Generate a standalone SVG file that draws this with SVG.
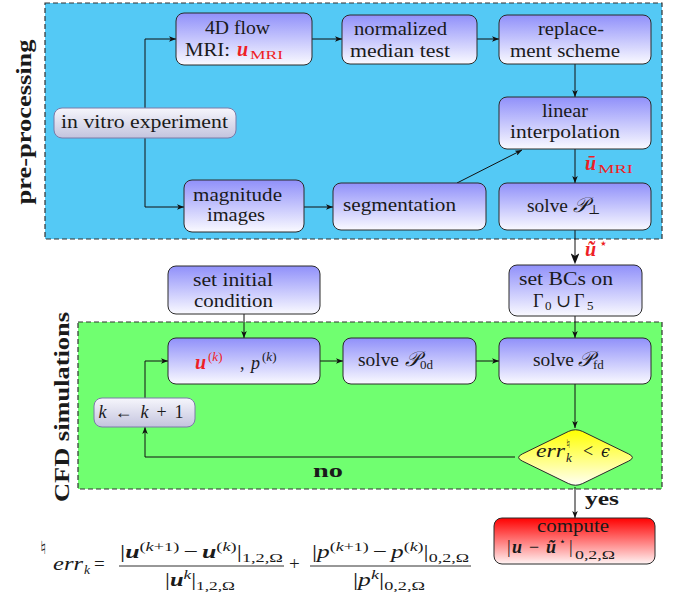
<svg xmlns="http://www.w3.org/2000/svg" width="678" height="592" viewBox="0 0 678 592">
<defs>
<style>
.t{font-family:"Liberation Serif","DejaVu Serif",serif;font-size:18px;fill:#1a1a1a}
.i{font-style:italic}
.bi{font-style:italic;font-weight:bold}
.bold{font-weight:bold}
.red{fill:#ee1f26}
.s{font-size:13px}
.sym{font-family:"DejaVu Serif","Liberation Serif",serif}
.scr{font-size:21px}
.lbl{font-family:"Liberation Serif","DejaVu Serif",serif;font-weight:bold;font-size:22px;fill:#1a1a1a}
.node{stroke:#2a2a2a;stroke-width:1}
.grey{stroke:#7a7aa8;stroke-width:1}
.conn{fill:none;stroke:#111;stroke-width:1}
.region{stroke:#333;stroke-width:1.2;stroke-dasharray:5 3}
.f{font-size:19px}
.fs{font-size:13.5px}
</style>
<linearGradient id="gBlue" x1="0" y1="0" x2="0" y2="1"><stop offset="0" stop-color="#9090fa"/><stop offset="1" stop-color="#fafaff"/></linearGradient>
<linearGradient id="gGrey" x1="0" y1="0" x2="0" y2="1"><stop offset="0" stop-color="#f6f6fc"/><stop offset="1" stop-color="#c4c4de"/></linearGradient>
<linearGradient id="gYel" x1="0" y1="0" x2="0" y2="1"><stop offset="0" stop-color="#ffff00"/><stop offset="1" stop-color="#fffff4"/></linearGradient>
<linearGradient id="gRed" x1="0" y1="0" x2="0" y2="1"><stop offset="0" stop-color="#ff0000"/><stop offset="1" stop-color="#fff4f4"/></linearGradient>
<marker id="ah" viewBox="0 0 10 8" refX="10" refY="4" markerWidth="7" markerHeight="5.6" orient="auto" markerUnits="userSpaceOnUse"><path d="M0,0 L10,4 L0,8 L2.5,4 z" fill="#111"/></marker>
<marker id="ahT" viewBox="0 0 10 8" refX="2.5" refY="4" markerWidth="11" markerHeight="8.8" orient="auto" markerUnits="userSpaceOnUse"><path d="M0,0 L10,4 L0,8 L2.5,4 z" fill="#111"/></marker>
</defs>

<g id="region-pre">
<rect class="region" x="45" y="3" width="617" height="236" fill="#54c9f5"/>
<text class="lbl" transform="translate(31,122) rotate(-90)" text-anchor="middle" textLength="165" lengthAdjust="spacingAndGlyphs">pre-processing</text>
</g>
<g id="region-cfd">
<rect class="region" x="78" y="322" width="584" height="167" fill="#70ff70"/>
<text class="lbl" transform="translate(69,407) rotate(-90)" text-anchor="middle" textLength="190" lengthAdjust="spacingAndGlyphs">CFD simulations</text>
</g>

<g id="connectors">
<path class="conn" d="M145,108 V39 H176" marker-end="url(#ah)"/>
<path class="conn" d="M145,138 V207 H184" marker-end="url(#ah)"/>
<path class="conn" d="M312,39 H342" marker-end="url(#ah)"/>
<path class="conn" d="M477,39 H499" marker-end="url(#ah)"/>
<path class="conn" d="M575,64 V97" marker-end="url(#ah)"/>
<path class="conn" d="M457,183 L522,150" marker-end="url(#ah)"/>
<path class="conn" d="M575,149 V183" marker-end="url(#ah)"/>
<path class="conn" d="M304,207 H333" marker-end="url(#ah)"/>
<path class="conn" d="M575,230 V256" stroke-width="3" marker-end="url(#ahT)"/>
<path class="conn" d="M244,314 V338" marker-end="url(#ah)"/>
<path class="conn" d="M575,316 V338" marker-end="url(#ah)"/>
<path class="conn" d="M320,361 H343" marker-end="url(#ah)"/>
<path class="conn" d="M476,361 H499" marker-end="url(#ah)"/>
<path class="conn" d="M575,384 V428" marker-end="url(#ah)"/>
<path class="conn" d="M515,457 H145 V427" marker-end="url(#ah)"/>
<path class="conn" d="M145,398 V361 H168" marker-end="url(#ah)"/>
<path class="conn" d="M575,487 V518" marker-end="url(#ah)"/>
<text class="t red" x="585" y="170"><tspan class="bi" font-size="20">ū</tspan><tspan class="s" x="598" dy="3" textLength="35" lengthAdjust="spacingAndGlyphs">MRI</tspan></text>
<text class="t red" x="585" y="256"><tspan class="bi" font-size="20">ũ</tspan><tspan class="sym" font-size="14" x="599" dy="-8">⋆</tspan></text>
<text class="t bold" x="313" y="477" font-size="20" textLength="30" lengthAdjust="spacingAndGlyphs">no</text>
<text class="t bold" x="585" y="505" font-size="20" textLength="34" lengthAdjust="spacingAndGlyphs">yes</text>
</g>

<g id="n-invitro">
<rect class="grey" x="54" y="108" width="182" height="30" rx="8" fill="url(#gGrey)"/>
<text class="t" x="144.5" y="128" text-anchor="middle" textLength="167" lengthAdjust="spacingAndGlyphs">in vitro experiment</text>
</g>
<g id="n-4dflow">
<rect class="node" x="176" y="13" width="136" height="52" rx="8" fill="url(#gBlue)"/>
<text class="t" x="237.5" y="34" text-anchor="middle" textLength="65" lengthAdjust="spacingAndGlyphs">4D flow</text>
<text class="t" x="185" y="56"><tspan textLength="45" lengthAdjust="spacingAndGlyphs">MRI:</tspan> <tspan class="bi red" x="237" font-size="20">u</tspan><tspan class="s red" x="250" dy="3" textLength="33" lengthAdjust="spacingAndGlyphs">MRI</tspan></text>
</g>
<g id="n-median">
<rect class="node" x="342" y="15" width="135" height="49" rx="8" fill="url(#gBlue)"/>
<text class="t" x="400.5" y="35" text-anchor="middle" textLength="93" lengthAdjust="spacingAndGlyphs">normalized</text>
<text class="t" x="400" y="57" text-anchor="middle" textLength="100" lengthAdjust="spacingAndGlyphs">median test</text>
</g>
<g id="n-replace">
<rect class="node" x="499" y="15" width="152" height="49" rx="8" fill="url(#gBlue)"/>
<text class="t" x="571" y="35" text-anchor="middle" textLength="66" lengthAdjust="spacingAndGlyphs">replace-</text>
<text class="t" x="565" y="57" text-anchor="middle" textLength="110" lengthAdjust="spacingAndGlyphs">ment scheme</text>
</g>
<g id="n-linear">
<rect class="node" x="499" y="97" width="152" height="52" rx="8" fill="url(#gBlue)"/>
<text class="t" x="565" y="117" text-anchor="middle" textLength="46" lengthAdjust="spacingAndGlyphs">linear</text>
<text class="t" x="565" y="138" text-anchor="middle" textLength="110" lengthAdjust="spacingAndGlyphs">interpolation</text>
</g>
<g id="n-magnitude">
<rect class="node" x="184" y="180" width="120" height="52" rx="8" fill="url(#gBlue)"/>
<text class="t" x="237.5" y="201" text-anchor="middle" textLength="89" lengthAdjust="spacingAndGlyphs">magnitude</text>
<text class="t" x="236" y="221" text-anchor="middle" textLength="58" lengthAdjust="spacingAndGlyphs">images</text>
</g>
<g id="n-segmentation">
<rect class="node" x="333" y="183" width="153" height="47" rx="8" fill="url(#gBlue)"/>
<text class="t" x="399.5" y="211" text-anchor="middle" textLength="113" lengthAdjust="spacingAndGlyphs">segmentation</text>
</g>
<g id="n-solveperp">
<rect class="node" x="499" y="183" width="152" height="47" rx="8" fill="url(#gBlue)"/>
<text class="t" x="527" y="212"><tspan textLength="41" lengthAdjust="spacingAndGlyphs">solve</tspan> <tspan class="i scr" x="573">𝒫</tspan><tspan class="sym s" dy="2">⊥</tspan></text>
</g>

<g id="n-initial">
<rect class="node" x="168" y="266" width="152" height="48" rx="8" fill="url(#gBlue)"/>
<text class="t" x="233" y="286" text-anchor="middle" textLength="80" lengthAdjust="spacingAndGlyphs">set initial</text>
<text class="t" x="233.5" y="307" text-anchor="middle" textLength="79" lengthAdjust="spacingAndGlyphs">condition</text>
</g>
<g id="n-bcs">
<rect class="node" x="509" y="265" width="133" height="51" rx="8" fill="url(#gBlue)"/>
<text class="t" x="566" y="285" text-anchor="middle" textLength="94" lengthAdjust="spacingAndGlyphs">set BCs on</text>
<text class="t" x="533" y="307">Γ<tspan class="s" x="545" dy="3">0</tspan><tspan class="sym" x="556" dy="-3">∪</tspan><tspan x="574">Γ</tspan><tspan class="s" x="587" dy="3">5</tspan></text>
</g>
<g id="n-uk">
<rect class="node" x="168" y="338" width="152" height="46" rx="8" fill="url(#gBlue)"/>
<text class="t" x="195" y="369"><tspan class="bi red" font-size="20">u</tspan><tspan class="s red" x="208" dy="-8">(<tspan class="i">k</tspan>)</tspan><tspan x="240" dy="8">,</tspan> <tspan class="i" x="251">p</tspan><tspan class="s" x="262" dy="-8">(<tspan class="i">k</tspan>)</tspan></text>
</g>
<g id="n-solve0d">
<rect class="node" x="343" y="338" width="133" height="46" rx="8" fill="url(#gBlue)"/>
<text class="t" x="358" y="366"><tspan textLength="41" lengthAdjust="spacingAndGlyphs">solve</tspan> <tspan class="i scr" x="405">𝒫</tspan><tspan class="s" dy="3">0d</tspan></text>
</g>
<g id="n-solvefd">
<rect class="node" x="499" y="338" width="152" height="46" rx="8" fill="url(#gBlue)"/>
<text class="t" x="533" y="366"><tspan textLength="41" lengthAdjust="spacingAndGlyphs">solve</tspan> <tspan class="i scr" x="578">𝒫</tspan><tspan class="s" dy="3">fd</tspan></text>
</g>
<g id="n-kinc">
<rect class="grey" x="94" y="398" width="101" height="29" rx="8" fill="url(#gGrey)"/>
<text class="t" x="141" y="418" text-anchor="middle" textLength="85"><tspan class="i">k</tspan> ← <tspan class="i">k</tspan> + 1</text>
</g>
<g id="n-check">
<path class="node" d="M568.3,431.5 Q575.5,428 582.7,431.5 L628.8,454 Q636,457.5 628.8,461 L582.7,483.5 Q575.5,487 568.3,483.5 L522.2,461 Q515,457.5 522.2,454 Z" fill="url(#gYel)"/>
<text class="t" x="536" y="457"><tspan class="i" textLength="29" lengthAdjust="spacingAndGlyphs">err</tspan><tspan class="sym" font-size="12" x="566" dy="-9">♮</tspan><tspan class="i s" x="566" dy="14">k</tspan><tspan x="583" dy="-5">&lt;</tspan><tspan class="i sym" font-size="16" x="601">ϵ</tspan></text>
</g>
<g id="n-compute">
<rect class="node" x="494" y="518" width="161" height="46" rx="8" fill="url(#gRed)"/>
<text class="t" x="573" y="532" text-anchor="middle" textLength="72" lengthAdjust="spacingAndGlyphs">compute</text>
<text class="t" x="507" y="553">|<tspan class="bi" x="512">u</tspan><tspan x="529">−</tspan><tspan class="bi" x="546">ũ</tspan><tspan class="sym" font-size="11" x="559" dy="-8">⋆</tspan><tspan x="569" dy="8">|</tspan><tspan class="s" x="575" dy="6" textLength="40" lengthAdjust="spacingAndGlyphs">0,2,Ω</tspan></text>
</g>

<g id="footnote">
<text class="t sym" x="40" y="554" font-size="12">♮</text>
<text class="t f" x="53" y="570"><tspan class="i" textLength="30" lengthAdjust="spacingAndGlyphs">err</tspan><tspan class="i fs" x="84" dy="4">k</tspan><tspan x="94" dy="-4">=</tspan></text>
<line x1="119" y1="566" x2="284" y2="566" stroke="#1a1a1a" stroke-width="0.9"/>
<text class="t f" x="201.5" y="558" text-anchor="middle" textLength="163" lengthAdjust="spacingAndGlyphs">|<tspan class="bi">u</tspan><tspan class="fs" dy="-7">(<tspan class="i">k</tspan>+1)</tspan><tspan dy="7" dx="3">−</tspan><tspan class="bi" dx="3">u</tspan><tspan class="fs" dy="-7">(<tspan class="i">k</tspan>)</tspan><tspan dy="7">|</tspan><tspan class="fs" dy="4">1,2,Ω</tspan></text>
<text class="t f" x="200" y="586" text-anchor="middle" textLength="70" lengthAdjust="spacingAndGlyphs">|<tspan class="bi">u</tspan><tspan class="fs i" dy="-7">k</tspan><tspan dy="7">|</tspan><tspan class="fs" dy="4">1,2,Ω</tspan></text>
<text class="t f" x="289" y="570">+</text>
<line x1="310" y1="566" x2="471" y2="566" stroke="#1a1a1a" stroke-width="0.9"/>
<text class="t f" x="390.5" y="558" text-anchor="middle" textLength="157" lengthAdjust="spacingAndGlyphs">|<tspan class="i">p</tspan><tspan class="fs" dy="-7">(<tspan class="i">k</tspan>+1)</tspan><tspan dy="7" dx="3">−</tspan><tspan class="i" dx="3">p</tspan><tspan class="fs" dy="-7">(<tspan class="i">k</tspan>)</tspan><tspan dy="7">|</tspan><tspan class="fs" dy="4">0,2,Ω</tspan></text>
<text class="t f" x="389" y="586" text-anchor="middle" textLength="72" lengthAdjust="spacingAndGlyphs">|<tspan class="i">p</tspan><tspan class="fs i" dy="-7">k</tspan><tspan dy="7">|</tspan><tspan class="fs" dy="4">0,2,Ω</tspan></text>
</g>
</svg>
